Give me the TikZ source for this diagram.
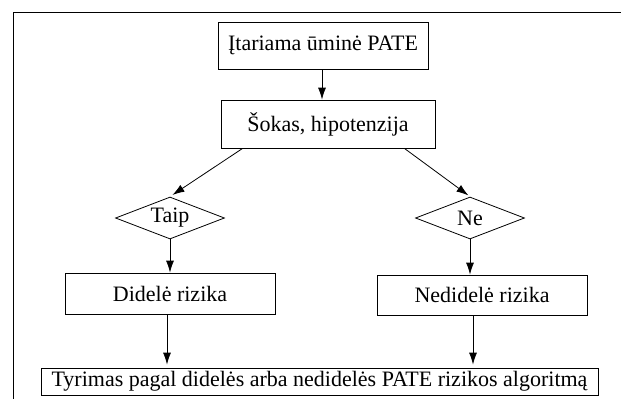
\documentclass[tikz,border=0pt]{standalone}
\usepackage{fontspec}
\setmainfont{Liberation Serif}
\usetikzlibrary{shapes.geometric,arrows.meta}

\begin{document}
\begin{tikzpicture}[x=1pt,y=-1pt,
  font=\fontsize{22}{26}\selectfont,
  box/.style={draw,line width=0.8pt,rectangle,inner sep=0pt},
  choice/.style={draw,line width=0.8pt,diamond,inner sep=0pt,aspect=2.6,minimum width=109pt,minimum height=42pt},
  arr/.style={line width=0.8pt,-{Latex[length=12pt,width=8pt]}}]
\useasboundingbox (0,0) rectangle (621,399);
\draw [line width=0.9pt] (621,12.5) -- (13,12.5) -- (13,399);
\node [box,minimum width=210pt,minimum height=47pt] (suspect) at (323,45.5) {Įtariama ūminė PATE};
\node [box,minimum width=214pt,minimum height=48pt] (shock) at (328,124) {Šokas, hipotenzija};
\node [choice] (yes) at (170,218) {Taip};
\node [choice] (no) at (470,218) {Ne};
\node [box,minimum width=210pt,minimum height=41pt] (high) at (170,293.5) {Didelė rizika};
\node [box,minimum width=210pt,minimum height=40pt] (low) at (482,295) {Nedidelė rizika};
\node [box,minimum width=557pt,minimum height=27pt] (study) at (319.5,381.5) {Tyrimas pagal didelės arba nedidelės PATE rizikos algoritmą};
\draw [arr] (suspect.south -| 322,0) -- (shock.north -| 322,0);
\draw [arr,shorten >=3pt] ([xshift=22pt]shock.south west) -- (yes.north);
\draw [arr,shorten >=2pt] ([xshift=-31pt]shock.south east) -- (no.north);
\draw [arr] (yes.south) -- (yes |- high.north);
\draw [arr] (no.south) -- (no |- low.north);
\draw [arr,shorten >=3pt] ([xshift=-3pt]high.south) -- ([xshift=-3pt]high.south |- study.north);
\draw [arr,shorten >=3pt] ([xshift=-9pt]low.south) -- ([xshift=-9pt]low.south |- study.north);
\end{tikzpicture}
\end{document}
